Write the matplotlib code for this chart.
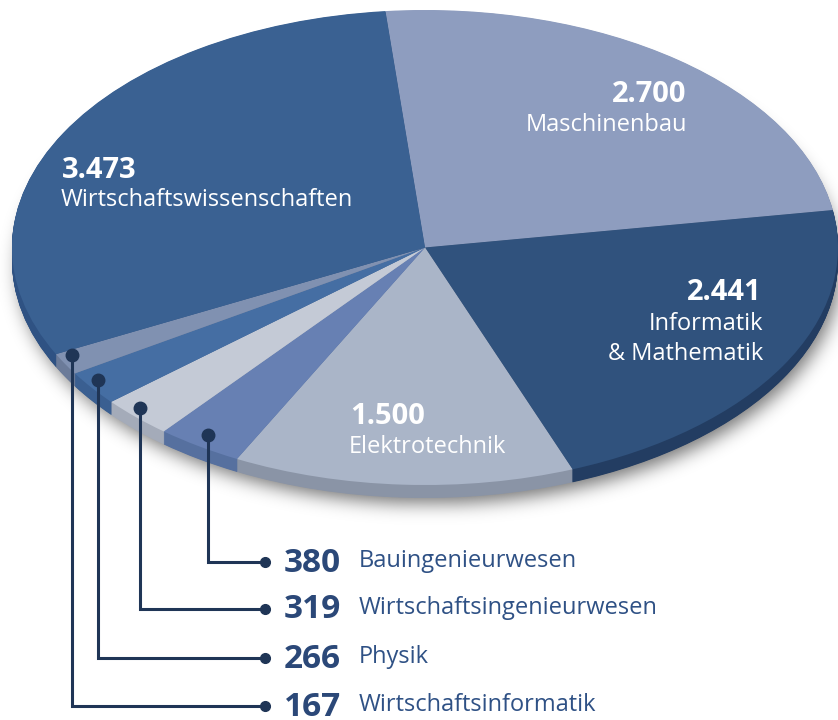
import numpy as np
import matplotlib
matplotlib.use("Agg")
import matplotlib.pyplot as plt

# ---- data ----
categories = ["Maschinenbau", "Informatik\n& Mathematik", "Elektrotechnik",
              "Bauingenieurwesen", "Wirtschaftsingenieurwesen", "Physik",
              "Wirtschaftsinformatik", "Wirtschaftswissenschaften"]
values = [2700, 2441, 1500, 380, 319, 266, 167, 3473]
value_labels = ["2.700", "2.441", "1.500", "380", "319", "266", "167", "3.473"]
top_colors = ["#8e9dbf", "#30527d", "#aab5c8", "#6780b3", "#c4cad6", "#456ea3", "#8091b1", "#3a6192"]
side_colors = ["#76849f", "#233d62", "#8a94a6", "#56709f", "#a4abb9", "#3a5f91", "#6b7b99", "#2f5283"]

# ---- geometry (pixels) ----
W, H = 838, 720
cx, cy, rx, ry = 425.0, 247.5, 413.0, 237.5
depth = 13.0

def X(px):
    return (px - cx) / rx

def Y(py):
    return (cy - py) / ry

fig = plt.figure(figsize=(W / 100, H / 100), dpi=100)
ax = fig.add_axes([0, 0, 1, 1])
ax.set_axis_off()

# soft shadow under the pie
yy, xx = np.mgrid[0:H, 0:W].astype(float)
mask = ((((xx - (cx + 4)) / (rx - 2)) ** 2 + ((yy - (cy + depth + 7)) / (ry - 2)) ** 2) <= 1).astype(float)
sig = 9.0
k = np.arange(-30, 31)
kern = np.exp(-k ** 2 / (2 * sig ** 2)); kern /= kern.sum()
blur = np.apply_along_axis(lambda r: np.convolve(r, kern, mode="same"), 1, mask)
blur = np.apply_along_axis(lambda c: np.convolve(c, kern, mode="same"), 0, blur)
rgba = np.zeros((H, W, 4))
rgba[..., 3] = blur * 0.55
ax.imshow(rgba, extent=(X(0), X(W), Y(H), Y(0)), zorder=0, interpolation="bilinear")

start = 95.5
# side wall: stacked pies
nlay = 26
for i in range(nlay, 0, -1):
    off = depth / ry * i / nlay
    ax.pie(values, colors=side_colors, startangle=start, counterclock=False,
           radius=1.0, center=(0, -off), wedgeprops=dict(linewidth=0, antialiased=True))
# top face
ax.pie(values, colors=top_colors, startangle=start, counterclock=False,
       radius=1.0, center=(0, 0), wedgeprops=dict(linewidth=0, antialiased=True))

ax.set_aspect("auto")
ax.set_xlim(X(0), X(W))
ax.set_ylim(Y(H), Y(0))

fam = ["Open Sans", "DejaVu Sans"]
white = "white"
num_fs = 21
lab_fs = 17

# labels inside the pie
ax.text(X(62), Y(171), value_labels[7], color=white, fontsize=num_fs, fontweight="bold",
        family=fam, ha="left", va="center")
ax.text(X(61), Y(200), categories[7], color=white, fontsize=lab_fs, family=fam, ha="left", va="center")

ax.text(X(686), Y(94), value_labels[0], color=white, fontsize=num_fs, fontweight="bold",
        family=fam, ha="right", va="center")
ax.text(X(687), Y(125), categories[0], color=white, fontsize=lab_fs, family=fam, ha="right", va="center")

ax.text(X(762), Y(293), value_labels[1], color=white, fontsize=num_fs, fontweight="bold",
        family=fam, ha="right", va="center")
ax.text(X(763), Y(339), categories[1], color=white, fontsize=lab_fs, family=fam, ha="right",
        va="center", linespacing=1.3, multialignment="right")

ax.text(X(350), Y(416), value_labels[2], color=white, fontsize=num_fs, fontweight="bold",
        family=fam, ha="left", va="center")
ax.text(X(349), Y(447), categories[2], color=white, fontsize=lab_fs, family=fam, ha="left", va="center")

# small slices with leader lines
line_c = "#1f3556"
num_c = "#2b4878"
txt_c = "#2f5185"
anchors = [(208, 435), (140, 408), (98, 380), (72, 355)]
rows_y = [562, 609, 658, 706]
for j, idx in enumerate([3, 4, 5, 6]):
    ax_, ay_ = anchors[j]
    ry_ = rows_y[j]
    ax.plot([X(ax_), X(ax_), X(265)], [Y(ay_), Y(ry_), Y(ry_)], color=line_c, lw=2.2,
            solid_joinstyle="miter", zorder=5)
    ax.plot([X(ax_)], [Y(ay_)], "o", color=line_c, ms=9, zorder=6)
    ax.plot([X(265)], [Y(ry_)], "o", color=line_c, ms=7, zorder=6)
    ax.text(X(284), Y(ry_ + 1), value_labels[idx], color=num_c, fontsize=24,
            fontweight="bold", family=fam, ha="left", va="center")
    ax.text(X(359), Y(ry_ - 1), categories[idx], color=txt_c, fontsize=lab_fs,
            family=fam, ha="left", va="center")

fig.savefig("out.png", dpi=100)
